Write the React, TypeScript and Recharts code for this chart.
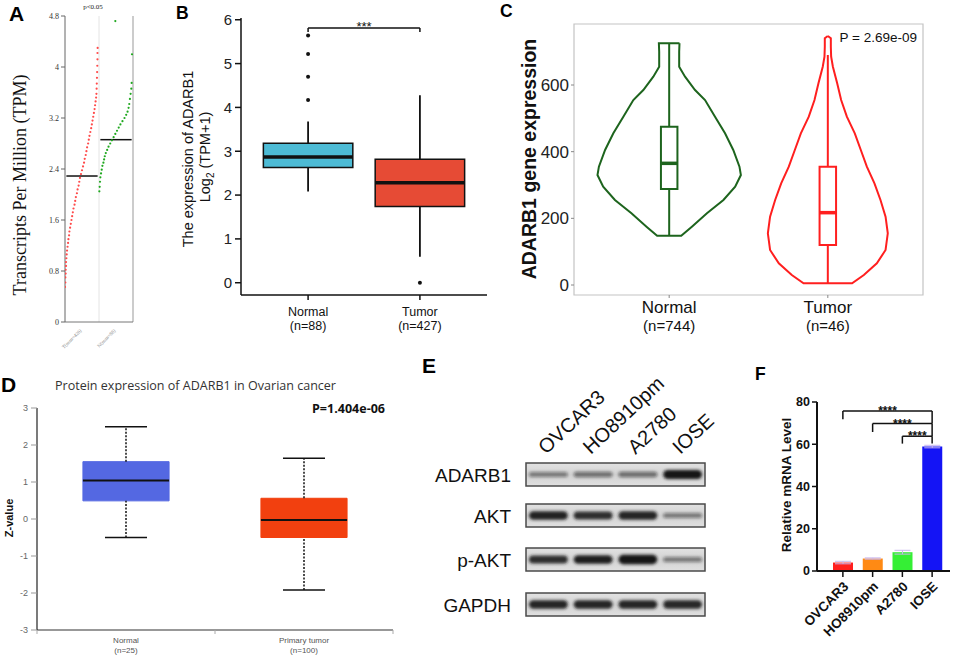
import React from 'react'
import {
  ScatterChart,
  Scatter,
  BarChart,
  Bar,
  ErrorBar,
  Cell,
  XAxis,
  YAxis,
  ReferenceLine,
  ReferenceArea,
} from 'recharts'

// composite figure: ADARB1 expression panels A-F

if (typeof document !== 'undefined') document.body.style.margin = '0'

const SANS = '"Liberation Sans", Arial, Helvetica, sans-serif'
const SERIF = '"Liberation Serif", "Times New Roman", serif'
const OPEN = '"Open Sans", "DejaVu Sans", sans-serif'

// ---- A: GEPIA dot plot (TPM)
const tpmGroups = ['T(num=426)', 'N(num=88)']
const tpmTicks = [0, 0.8, 1.6, 2.4, 3.2, 4, 4.8]
const tpmRedVal = [
  0.55, 0.62, 0.7, 0.76, 0.82, 0.88, 0.94, 1.0, 1.06, 1.12, 1.18, 1.24, 1.3, 1.36, 1.42, 1.48, 1.54, 1.6, 1.66, 1.72,
  1.78, 1.84, 1.9, 1.96, 2.02, 2.08, 2.14, 2.2, 2.26, 2.32, 2.38, 2.44, 2.5, 2.56, 2.62, 2.68, 2.74, 2.8, 2.86, 2.92,
  2.98, 3.04, 3.1, 3.16, 3.22, 3.28, 3.34, 3.4, 3.46, 3.52, 3.58, 3.66, 3.74, 3.83, 3.92, 4.02, 4.12, 4.22, 4.3,
]
const tpmRedPos = [
  0.0, 0.01, 0.01, 0.02, 0.02, 0.03, 0.03, 0.04, 0.05, 0.06, 0.075, 0.09, 0.1, 0.12, 0.13, 0.15, 0.17, 0.19, 0.21, 0.23,
  0.25, 0.28, 0.3, 0.32, 0.35, 0.37, 0.4, 0.42, 0.44, 0.47, 0.5, 0.53, 0.56, 0.58, 0.61, 0.63, 0.65, 0.68, 0.7, 0.72,
  0.745, 0.77, 0.79, 0.81, 0.83, 0.85, 0.87, 0.885, 0.9, 0.915, 0.925, 0.93, 0.935, 0.94, 0.945, 0.95, 0.955, 0.955, 0.96,
]
const tpmGreenVal = [
  2.05, 2.12, 2.2, 2.27, 2.33, 2.39, 2.45, 2.5, 2.55, 2.6, 2.65, 2.7, 2.75, 2.8, 2.85, 2.9, 2.95, 3.0, 3.05, 3.1,
  3.15, 3.2, 3.25, 3.3, 3.36, 3.42, 3.5, 3.58, 3.66, 3.75, 4.2, 4.72,
]
const tpmGreenPos = [
  0.01, 0.02, 0.03, 0.04, 0.06, 0.08, 0.1, 0.13, 0.15, 0.17, 0.2, 0.24, 0.28, 0.33, 0.38, 0.43, 0.48, 0.53, 0.58, 0.63,
  0.69, 0.75, 0.8, 0.84, 0.87, 0.89, 0.91, 0.93, 0.95, 0.96, 0.97, 0.48,
]
const tpmMedians = [2.29, 2.86]

// ---- B: box plot log2(TPM+1)
const exprGroups = ['Normal', 'Tumor']
const exprCounts = ['(n=88)', '(n=427)']
const exprTicks = [0, 1, 2, 3, 4, 5, 6]
const exprMin = [2.08, 0.59]
const exprQ1 = [2.63, 1.74]
const exprMed = [2.87, 2.28]
const exprQ3 = [3.18, 2.82]
const exprMax = [3.68, 4.28]
const exprOutNormal = [4.17, 4.7, 5.22, 5.64]
const exprOutTumor = [0.0]
const exprColors = ['#4DBBD5', '#E64B35']
const exprSig = [5.81, 5.72]

// ---- C: violin plot
const vioGroups = ['Normal', 'Tumor']
const vioCounts = ['(n=744)', '(n=46)']
const vioTicks = [0, 200, 400, 600]
const vioNormalVal = [725, 700, 655, 625, 585, 555, 505, 455, 405, 355, 330, 295, 255, 215, 175, 148]
const vioNormalDens = [0.065, 0.063, 0.063, 0.1, 0.163, 0.226, 0.289, 0.352, 0.404, 0.443, 0.452, 0.416, 0.342, 0.238, 0.143, 0.076]
const vioTumorVal = [747, 740, 715, 685, 655, 605, 555, 505, 455, 405, 355, 305, 255, 205, 155, 105, 65, 30, 5]
const vioTumorDens = [0.0, 0.019, 0.019, 0.021, 0.032, 0.059, 0.084, 0.12, 0.17, 0.208, 0.246, 0.294, 0.332, 0.364, 0.378, 0.364, 0.309, 0.227, 0.153]
const vioMin = [148, 5]
const vioQ1 = [288, 120]
const vioMed = [365, 217]
const vioQ3 = [475, 355]
const vioMax = [725, 690]
const vioColors = ['#1d641d', '#ff1f1f']

// ---- D: CPTAC protein z-values
const zGroups = ['Normal', 'Primary tumor']
const zCounts = ['(n=25)', '(n=100)']
const zTicks = [-3, -2, -1, 0, 1, 2, 3]
const zMin = [-0.5, -1.92]
const zQ1 = [0.49, -0.5]
const zMed = [1.04, -0.03]
const zQ3 = [1.55, 0.56]
const zMax = [2.49, 1.64]
const zColors = ['#5468e2', '#f2400f']

// ---- E: western blot
const blotLanes = ['OVCAR3', 'HO8910pm', 'A2780', 'IOSE']
const blotProteins = ['ADARB1', 'AKT', 'p-AKT', 'GAPDH']
const blotIntensity = [
  [0.35, 0.4, 0.42, 1.0],
  [0.92, 0.85, 0.9, 0.35],
  [0.85, 0.95, 1.05, 0.35],
  [0.9, 0.9, 0.9, 0.88],
]

// ---- F: qPCR
const mrnaCells = ['OVCAR3', 'HO8910pm', 'A2780', 'IOSE']
const mrnaMean = [4.0, 5.9, 8.9, 58.9]
const mrnaErr = [0.6, 0.3, 0.9, 0.6]
const mrnaTicks = [0, 20, 40, 60, 80]
const mrnaColors = ['#ff1e1e', '#ff8a14', '#35ef35', '#1414f5']
const sigLeft = ['OVCAR3', 'HO8910pm', 'A2780']
const sigTop = [75.7, 69.8, 63.8]
const sigLeftEnd = [71.8, 65.8, 60.3]
const sigRightEnd = [69.8, 63.8, 60.3]

const dot = (fill: string, r = 1.1) => (p: any) => <circle cx={p.cx} cy={p.cy} r={r} fill={fill} />
const noDot = () => <g />

function PanelA() {
  const red = tpmRedVal.map((v, i) => ({ x: tpmRedPos[i], y: v }))
  const green = tpmGreenVal.map((v, i) => ({ x: 1 + tpmGreenPos[i], y: v }))
  const tick = (p: any) => {
    const i = p.payload.value < 1 ? 0 : 1
    return (
      <text x={p.x} y={p.y + 1} textAnchor="end" transform={`rotate(-45 ${p.x} ${p.y + 1})`} fontSize={5} fontFamily={SERIF} fill="#888">
        {tpmGroups[i]}
      </text>
    )
  }
  return (
    <ScatterChart width={140} height={352} margin={{ top: 16, right: 7, bottom: 0, left: 0 }}>
      <XAxis type="number" dataKey="x" domain={[0, 2]} allowDataOverflow ticks={[0.5, 1.5]} interval={0} height={30} axisLine={{ stroke: '#777' }} tickLine={false} tick={tick} />
      <YAxis type="number" dataKey="y" domain={[0, 4.8]} allowDataOverflow ticks={tpmTicks} interval={0} width={65} axisLine={{ stroke: '#666' }} tickLine={{ stroke: '#666' }} tickSize={4} tickMargin={2} tick={{ fontSize: 8, fontFamily: SERIF, fill: '#333' }} />
      <ReferenceLine x={1} stroke="#e4e4e4" />
      <ReferenceLine x={2} stroke="#999" />
      <Scatter data={red} shape={dot('#ff4a4a')} isAnimationActive={false} />
      <Scatter data={green} shape={dot('#1fa81f')} isAnimationActive={false} />
      {tpmMedians.map((m, i) => (
        <ReferenceLine key={i} segment={[{ x: i + 0.04, y: m }, { x: i + 0.96, y: m }]} stroke="#111" strokeWidth={1.5} />
      ))}
    </ScatterChart>
  )
}

function PanelB() {
  const hw = 0.4
  const outliers = [
    ...exprOutNormal.map((v) => ({ x: 1, y: v })),
    ...exprOutTumor.map((v) => ({ x: 2, y: v })),
  ]
  const tick = (p: any) => {
    const i = Math.round(p.payload.value) - 1
    return (
      <g>
        <text x={p.x} y={p.y + 14} textAnchor="middle" fontSize={12.5} fontFamily={SANS} fill="#111">{exprGroups[i]}</text>
        <text x={p.x} y={p.y + 28} textAnchor="middle" fontSize={12.5} fontFamily={SANS} fill="#111">{exprCounts[i]}</text>
      </g>
    )
  }
  const ax = { stroke: '#111', strokeWidth: 1.5 }
  return (
    <ScatterChart width={350} height={340} margin={{ top: 18, right: 13, bottom: 0, left: 0 }}>
      <XAxis type="number" dataKey="x" domain={[0.4, 2.6]} allowDataOverflow ticks={[1, 2]} interval={0} height={45} axisLine={ax} tickLine={ax} tickSize={5} tick={tick} />
      <YAxis type="number" dataKey="y" domain={[-0.28, 6.04]} allowDataOverflow ticks={exprTicks} interval={0} width={91} axisLine={ax} tickLine={ax} tickSize={6} tickMargin={3} tick={{ fontSize: 15, fontFamily: SANS, fill: '#222' }} />
      {exprGroups.map((g, i) => (
        <ReferenceLine key={'wh' + g} segment={[{ x: i + 1, y: exprQ3[i] }, { x: i + 1, y: exprMax[i] }]} stroke="#111" strokeWidth={1.8} />
      ))}
      {exprGroups.map((g, i) => (
        <ReferenceLine key={'wl' + g} segment={[{ x: i + 1, y: exprMin[i] }, { x: i + 1, y: exprQ1[i] }]} stroke="#111" strokeWidth={1.8} />
      ))}
      {exprGroups.map((g, i) => (
        <ReferenceArea key={'b' + g} x1={i + 1 - hw} x2={i + 1 + hw} y1={exprQ1[i]} y2={exprQ3[i]} fill={exprColors[i]} fillOpacity={1} stroke="#111" strokeWidth={1.5} />
      ))}
      {exprGroups.map((g, i) => (
        <ReferenceLine key={'m' + g} segment={[{ x: i + 1 - hw, y: exprMed[i] }, { x: i + 1 + hw, y: exprMed[i] }]} stroke="#111" strokeWidth={3.5} />
      ))}
      <Scatter data={outliers} shape={dot('#111', 2)} isAnimationActive={false} />
      <ReferenceLine
        segment={[{ x: 1, y: exprSig[0] }, { x: 2, y: exprSig[0] }]}
        stroke="#111"
        strokeWidth={1.5}
        label={{ value: '***', position: 'top', offset: -3, fontSize: 13, fill: '#111', fontFamily: SANS }}
      />
      <ReferenceLine segment={[{ x: 1, y: exprSig[0] }, { x: 1, y: exprSig[1] }]} stroke="#111" strokeWidth={1.5} />
      <ReferenceLine segment={[{ x: 2, y: exprSig[0] }, { x: 2, y: exprSig[1] }]} stroke="#111" strokeWidth={1.5} />
    </ScatterChart>
  )
}

function violinOutline(c: number, vals: number[], dens: number[]) {
  const right = vals.map((v, i) => ({ x: c + dens[i], y: v }))
  const left = vals.map((v, i) => ({ x: c - dens[i], y: v })).reverse()
  return [...right, ...left, right[0]]
}

function PanelC() {
  const hw = 0.052
  const outlines = [
    violinOutline(1, vioNormalVal, vioNormalDens),
    violinOutline(2, vioTumorVal, vioTumorDens),
  ]
  const tick = (p: any) => {
    const i = Math.round(p.payload.value) - 1
    return (
      <g>
        <text x={p.x} y={p.y + 13} textAnchor="middle" fontSize={17} fontFamily={SANS} fill="#111">{vioGroups[i]}</text>
        <text x={p.x} y={p.y + 31} textAnchor="middle" fontSize={15} fontFamily={SANS} fill="#111">{vioCounts[i]}</text>
      </g>
    )
  }
  return (
    <ScatterChart width={450} height={345} margin={{ top: 24, right: 17, bottom: 0, left: 0 }}>
      <XAxis type="number" dataKey="x" domain={[0.4, 2.6]} allowDataOverflow ticks={[1, 2]} interval={0} height={50} axisLine={false} tickLine={{ stroke: '#888' }} tickSize={3} tick={tick} />
      <YAxis type="number" dataKey="y" domain={[-30, 783]} allowDataOverflow ticks={vioTicks} interval={0} width={84} axisLine={false} tickLine={{ stroke: '#888' }} tickSize={3} tickMargin={2} tick={{ fontSize: 17, fontFamily: SANS, fill: '#222' }} />
      <ReferenceArea x1={0.4} x2={2.6} y1={-30} y2={783} fill="none" stroke="#c4c4c4" strokeWidth={1.2} />
      {outlines.map((o, i) => (
        <Scatter key={'v' + i} data={o} line={{ stroke: vioColors[i], strokeWidth: 2 }} lineJointType="linear" shape={noDot} isAnimationActive={false} />
      ))}
      {vioGroups.map((g, i) => (
        <ReferenceLine key={'wh' + g} segment={[{ x: i + 1, y: vioQ3[i] }, { x: i + 1, y: vioMax[i] }]} stroke={vioColors[i]} strokeWidth={2} />
      ))}
      {vioGroups.map((g, i) => (
        <ReferenceLine key={'wl' + g} segment={[{ x: i + 1, y: vioMin[i] }, { x: i + 1, y: vioQ1[i] }]} stroke={vioColors[i]} strokeWidth={2} />
      ))}
      {vioGroups.map((g, i) => (
        <ReferenceArea key={'b' + g} x1={i + 1 - hw} x2={i + 1 + hw} y1={vioQ1[i]} y2={vioQ3[i]} fill="none" stroke={vioColors[i]} strokeWidth={2} />
      ))}
      {vioGroups.map((g, i) => (
        <ReferenceLine key={'m' + g} segment={[{ x: i + 1 - hw, y: vioMed[i] }, { x: i + 1 + hw, y: vioMed[i] }]} stroke={vioColors[i]} strokeWidth={3.5} />
      ))}
    </ScatterChart>
  )
}

function PanelD() {
  const hw = 0.242
  const cap = 0.118
  const tick = (p: any) => {
    const v = p.payload.value
    if (Math.abs(v - Math.round(v)) > 0.1) {
      return <line x1={p.x} x2={p.x} y1={p.y} y2={p.y + 4} stroke="#aaa" strokeWidth={1} />
    }
    const i = Math.round(v) - 1
    return (
      <g>
        <text x={p.x} y={p.y + 13} textAnchor="middle" fontSize={8} fontFamily={SANS} fill="#555">{zGroups[i]}</text>
        <text x={p.x} y={p.y + 22.5} textAnchor="middle" fontSize={8} fontFamily={SANS} fill="#555">{zCounts[i]}</text>
      </g>
    )
  }
  return (
    <ScatterChart width={420} height={275} margin={{ top: 28, right: 27, bottom: 0, left: 0 }}>
      <XAxis type="number" dataKey="x" domain={[0.5, 2.5]} allowDataOverflow ticks={[0.5, 1, 1.5, 2, 2.5]} interval={0} height={25} axisLine={{ stroke: '#333', strokeWidth: 1.2 }} tickLine={false} tickSize={0} tickMargin={0} tick={tick} />
      <YAxis type="number" dataKey="y" domain={[-3, 3]} allowDataOverflow ticks={zTicks} interval={0} width={37} axisLine={{ stroke: '#222', strokeWidth: 1.2 }} tickLine={{ stroke: '#999' }} tickSize={6} tickMargin={3} tick={{ fontSize: 9, fontFamily: SANS, fill: '#666' }} />
      {zGroups.map((g, i) => (
        <ReferenceLine key={'wh' + g} segment={[{ x: i + 1, y: zQ3[i] }, { x: i + 1, y: zMax[i] }]} stroke="#111" strokeWidth={1.5} strokeDasharray="2 1.5" />
      ))}
      {zGroups.map((g, i) => (
        <ReferenceLine key={'wl' + g} segment={[{ x: i + 1, y: zMin[i] }, { x: i + 1, y: zQ1[i] }]} stroke="#111" strokeWidth={1.5} strokeDasharray="2 1.5" />
      ))}
      {zGroups.map((g, i) => (
        <ReferenceLine key={'ch' + g} segment={[{ x: i + 1 - cap, y: zMax[i] }, { x: i + 1 + cap, y: zMax[i] }]} stroke="#111" strokeWidth={1.5} />
      ))}
      {zGroups.map((g, i) => (
        <ReferenceLine key={'cl' + g} segment={[{ x: i + 1 - cap, y: zMin[i] }, { x: i + 1 + cap, y: zMin[i] }]} stroke="#111" strokeWidth={1.5} />
      ))}
      {zGroups.map((g, i) => (
        <ReferenceArea key={'b' + g} x1={i + 1 - hw} x2={i + 1 + hw} y1={zQ1[i]} y2={zQ3[i]} fill={zColors[i]} fillOpacity={1} stroke={zColors[i]} />
      ))}
      {zGroups.map((g, i) => (
        <ReferenceLine key={'m' + g} segment={[{ x: i + 1 - hw, y: zMed[i] }, { x: i + 1 + hw, y: zMed[i] }]} stroke="#111" strokeWidth={2} />
      ))}
    </ScatterChart>
  )
}

function PanelF() {
  const data = mrnaCells.map((c, i) => ({ name: c, value: mrnaMean[i], err: mrnaErr[i] }))
  const tick = (p: any) => {
    const ax = p.x + 3
    const ay = p.y + 5
    return (
      <text x={ax} y={ay} dy="0.35em" textAnchor="end" transform={`rotate(-45 ${ax} ${ay})`} fontSize={13.5} fontWeight="bold" fontFamily={SANS} fill="#111">
        {p.payload.value}
      </text>
    )
  }
  const ax = { stroke: '#111', strokeWidth: 2 }
  return (
    <BarChart width={235} height={275} margin={{ top: 22, right: 5, bottom: 0, left: 0 }} data={data}>
      <XAxis dataKey="name" height={84} padding={{ left: 11, right: 3 }} axisLine={ax} tickLine={{ stroke: '#111', strokeWidth: 1.5 }} tickSize={6} interval={0} tick={tick} />
      <YAxis domain={[0, 80]} allowDataOverflow ticks={mrnaTicks} interval={0} width={97} axisLine={ax} tickLine={{ stroke: '#111', strokeWidth: 1.5 }} tickSize={5} tickMargin={2} tick={{ fontSize: 12.5, fontWeight: 'bold', fontFamily: SANS, fill: '#111' }} />
      <Bar dataKey="value" barSize={20} isAnimationActive={false}>
        {data.map((d, i) => (
          <Cell key={d.name} fill={mrnaColors[i]} />
        ))}
        <ErrorBar dataKey="err" width={8} stroke="#c9b6ee" strokeWidth={1} />
      </Bar>
      {sigLeft.map((c, i) => (
        <ReferenceLine
          key={'t' + c}
          segment={[{ x: c, y: sigTop[i] }, { x: 'IOSE', y: sigTop[i] }]}
          stroke="#111"
          strokeWidth={1.5}
          label={{ value: '****', position: 'top', offset: -4, fontSize: 12, fontWeight: 'bold', fill: '#111', fontFamily: SANS }}
        />
      ))}
      {sigLeft.map((c, i) => (
        <ReferenceLine key={'l' + c} segment={[{ x: c, y: sigTop[i] }, { x: c, y: sigLeftEnd[i] }]} stroke="#111" strokeWidth={1.5} />
      ))}
      {sigLeft.map((c, i) => (
        <ReferenceLine key={'r' + c} segment={[{ x: 'IOSE', y: sigTop[i] }, { x: 'IOSE', y: sigRightEnd[i] }]} stroke="#111" strokeWidth={1.5} />
      ))}
    </BarChart>
  )
}

function Overlay() {
  const boxX = 526
  const boxW = 179
  const boxH = 23
  const rowTop = [463, 504, 548, 593]
  const laneW = boxW / blotLanes.length
  const rot = (x: number, y: number) => `rotate(-90 ${x} ${y})`
  return (
    <svg width={955} height={655} style={{ position: 'absolute', left: 0, top: 0, pointerEvents: 'none' }}>
      <defs>
        <filter id="bandBlur" x="-30%" y="-150%" width="160%" height="400%">
          <feGaussianBlur stdDeviation="1.6" />
        </filter>
        <linearGradient id="membrane" x1="0" y1="0" x2="0" y2="1">
          <stop offset="0%" stopColor="#e2e2e2" />
          <stop offset="50%" stopColor="#d2d2d2" />
          <stop offset="100%" stopColor="#e0e0e0" />
        </linearGradient>
      </defs>

      {/* panel letters */}
      <g fontFamily={SANS} fontWeight="bold" fill="#000">
        <text x={9} y={21} fontSize={21}>A</text>
        <text x={176} y={19} fontSize={17.5}>B</text>
        <text x={500} y={17} fontSize={17.5}>C</text>
        <text x={1} y={392} fontSize={21}>D</text>
        <text x={422} y={373} fontSize={21}>E</text>
        <text x={755} y={380} fontSize={17.5}>F</text>
      </g>

      {/* A texts */}
      <text x={93} y={9} fontSize={7} fontFamily={SERIF} textAnchor="middle" fill="#222">p&lt;0.05</text>
      <text x={26} y={185} fontSize={18} fontFamily={SERIF} textAnchor="middle" fill="#111" transform={rot(26, 185)}>
        Transcripts Per Million (TPM)
      </text>

      {/* B axis title */}
      <text x={193} y={159} fontSize={14.5} fontFamily={SANS} textAnchor="middle" fill="#111" transform={rot(193, 159)}>
        The expression of ADARB1
      </text>
      <text x={210} y={157} fontSize={14.5} fontFamily={SANS} textAnchor="middle" fill="#111" transform={rot(210, 157)}>
        Log<tspan fontSize={10} dy={4}>2</tspan><tspan dy={-4}> (TPM+1)</tspan>
      </text>

      {/* C texts */}
      <text x={536} y={159} fontSize={19.5} fontWeight="bold" fontFamily={SANS} textAnchor="middle" fill="#111" transform={rot(536, 159)}>
        ADARB1 gene expression
      </text>
      <text x={917} y={42} fontSize={13.5} fontFamily={SANS} textAnchor="end" fill="#111">P = 2.69e-09</text>

      {/* D texts */}
      <text x={55} y={390} fontSize={13} fontFamily={OPEN} fill="#333" textLength={281} lengthAdjust="spacingAndGlyphs">
        Protein expression of ADARB1 in Ovarian cancer
      </text>
      <text x={312} y={413} fontSize={12.5} fontWeight="bold" fontFamily={OPEN} fill="#111" textLength={73} lengthAdjust="spacingAndGlyphs">
        P=1.404e-06
      </text>
      <text x={13} y={518} fontSize={11} fontWeight="bold" fontFamily={SANS} textAnchor="middle" fill="#111" transform={rot(13, 518)}>
        Z-value
      </text>

      {/* E western blot */}
      {blotProteins.map((p, r) => (
        <g key={p}>
          <rect x={boxX} y={rowTop[r]} width={boxW} height={boxH} fill="url(#membrane)" stroke="#4a4a4a" strokeWidth={1.5} />
          {blotIntensity[r].map((v, l) => {
            const h = 3 + 6 * v
            return (
              <rect
                key={l}
                x={boxX + laneW * l + 3}
                y={rowTop[r] + boxH / 2 - h / 2}
                width={laneW - 6}
                height={h}
                rx={h / 2}
                fill="#141414"
                fillOpacity={Math.min(1, 0.2 + 0.8 * v)}
                filter="url(#bandBlur)"
              />
            )
          })}
          <text x={511} y={rowTop[r] + boxH / 2 + 7} fontSize={19} fontFamily={SANS} textAnchor="end" fill="#111">
            {p}
          </text>
        </g>
      ))}
      {blotLanes.map((l, i) => {
        const x = boxX + laneW * i + 20
        const y = 455
        return (
          <text key={l} x={x} y={y} fontSize={20} fontFamily={SANS} fill="#111" transform={`rotate(-43 ${x} ${y})`}>
            {l}
          </text>
        )
      })}

      {/* F axis title */}
      <text x={791} y={485} fontSize={13.5} fontWeight="bold" fontFamily={SANS} textAnchor="middle" fill="#111" transform={rot(791, 485)}>
        Relative mRNA Level
      </text>
    </svg>
  )
}

const abs = (left: number, top: number): React.CSSProperties => ({ position: 'absolute', left, top })

export default function App() {
  return (
    <div style={{ position: 'relative', width: 955, height: 655, background: '#fff', overflow: 'hidden', fontFamily: SANS }}>
      <div style={abs(0, 0)}><PanelA /></div>
      <div style={abs(150, 0)}><PanelB /></div>
      <div style={abs(490, 0)}><PanelC /></div>
      <div style={abs(0, 380)}><PanelD /></div>
      <div style={abs(720, 380)}><PanelF /></div>
      <Overlay />
    </div>
  )
}
